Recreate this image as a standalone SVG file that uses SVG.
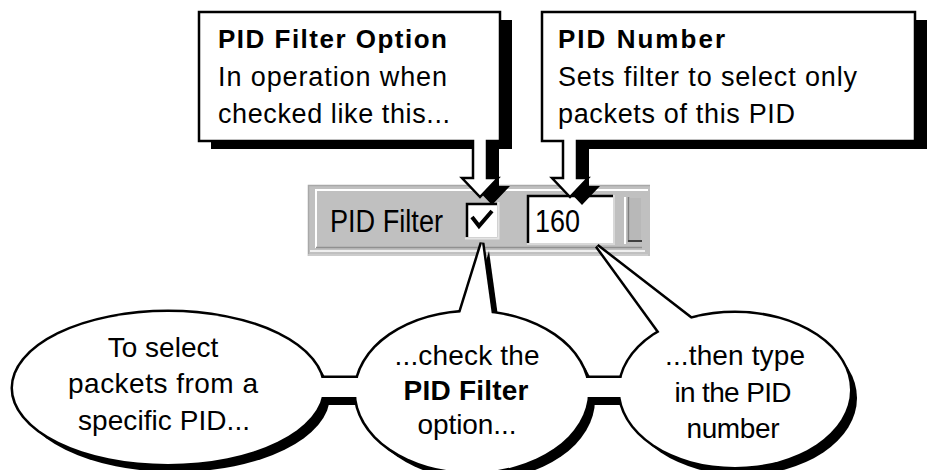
<svg xmlns="http://www.w3.org/2000/svg" width="927" height="470" viewBox="0 0 927 470">
<style>
text{font-family:"Liberation Sans",Arial,sans-serif;fill:#000}
.t{font-size:27px}
.tb{font-size:26px;font-weight:bold}
.e{font-size:28px;text-anchor:middle}
.eb{font-size:28px;font-weight:bold;text-anchor:middle}
.shadow{fill:#000}
.card{fill:#fff;stroke:#000;stroke-width:2.5;stroke-linejoin:miter}
.ol{fill:#fff;stroke:#000;stroke-width:5}
.wf{fill:#fff}
.tbt{font-size:31px}
</style>
<defs>
<ellipse id="e1" cx="168" cy="388" rx="155" ry="76"/>
<ellipse id="e2" cx="472" cy="392" rx="116" ry="80"/>
<ellipse id="e3" cx="735" cy="390" rx="115" ry="77"/>
<rect id="b1" x="310" y="378" width="60" height="19"/>
<rect id="b2" x="578" y="378" width="52" height="19"/>
<polygon id="t2" points="455,330 482,243 494,330"/>
<polygon id="t3" points="666,341 597,246 703,328"/>
</defs>

<g id="toolbar">
<rect x="308" y="185" width="342" height="71" fill="#c0c0c0"/>
<path d="M308.5,256 V185.5 H650" fill="none" stroke="#a8a8a8" stroke-width="1.5"/>
<path d="M316,248 V190 H648" fill="none" stroke="#fff" stroke-width="2"/>
<path d="M316,247.5 H642" fill="none" stroke="#909090" stroke-width="1.5"/>
<path d="M310,251 H645" fill="none" stroke="#fff" stroke-width="1.5"/>
<path d="M308,255 H648" fill="none" stroke="#d0d0d0" stroke-width="1.5"/>
<text class="tbt" x="330" y="232" textLength="113" lengthAdjust="spacingAndGlyphs">PID Filter</text>
<g id="checkbox">
<rect x="466" y="203" width="31" height="34" fill="#fff"/>
<path d="M465,238.5 H498.5 V202" stroke="#e4e4e4" stroke-width="2" fill="none"/>
<path d="M467,237 V204 H497" stroke="#000" stroke-width="2.5" fill="none"/>
<polyline points="472,217 479,226 492,211" fill="none" stroke="#000" stroke-width="4"/>
</g>
<g id="pid-input">
<rect x="527" y="195" width="86" height="48" fill="#fff"/>
<path d="M527,244 H614 V195" stroke="#d8d8d8" stroke-width="2" fill="none"/>
<path d="M528,243 V196 H613" stroke="#000" stroke-width="2.5" fill="none"/>
<text class="tbt" x="535" y="232" textLength="45" lengthAdjust="spacingAndGlyphs">160</text>
</g>
<path d="M625,197 V244" stroke="#fff" stroke-width="2" fill="none"/>
<rect x="630" y="198" width="11" height="42" fill="#b8b8b8"/>
<path d="M628.5,197 V242" stroke="#808080" stroke-width="1.5" fill="none"/>
<path d="M628,241 H642" stroke="#404040" stroke-width="2" fill="none"/>
</g>

<g id="balloon-shadow" class="shadow" transform="translate(7,8)">
<use href="#e1"/><use href="#e2"/><use href="#e3"/><use href="#b1"/><use href="#b2"/><use href="#t2"/>
</g>
<g id="balloon-outline" class="ol">
<use href="#e1"/><use href="#e2"/><use href="#e3"/><use href="#b1"/><use href="#b2"/><use href="#t2"/><use href="#t3"/>
</g>
<g id="connectors" class="wf">
<use href="#b1"/><use href="#b2"/><use href="#t2"/><use href="#t3"/>
</g>

<g id="balloon-select">
<use href="#e1" class="wf"/>
<text class="e" x="163" y="357">To select</text>
<text class="e" x="163" y="393" textLength="190">packets from a</text>
<text class="e" x="164" y="430" textLength="172">specific PID...</text>
</g>
<g id="balloon-check">
<use href="#e2" class="wf"/>
<text class="e" x="467" y="365" textLength="145">...check the</text>
<text class="eb" x="466" y="400" textLength="125">PID Filter</text>
<text class="e" x="467" y="434" textLength="99">option...</text>
</g>
<g id="balloon-type">
<use href="#e3" class="wf"/>
<text class="e" x="735" y="365" textLength="140">...then type</text>
<text class="e" x="733" y="402" textLength="117">in the PID</text>
<text class="e" x="733" y="438" textLength="93">number</text>
</g>

<g id="box-pid-filter-option">
<path class="shadow" d="M211,20 H512 V149 H499 V186 H510 L492,205 L474,186 H485 V149 H211 Z"/>
<path class="card" d="M199,12 H500 V141 H487 V178 H498 L480,197 L462,178 H473 V141 H199 Z"/>
<text class="tb" x="218" y="48" textLength="229">PID Filter Option</text>
<text class="t" x="218" y="86" textLength="229">In operation when</text>
<text class="t" x="218" y="123" textLength="232">checked like this...</text>
</g>
<g id="box-pid-number">
<path class="shadow" d="M563,20 H927 V149 H589 V186 H600 L582,205 L564,186 H575 V149 H563 Z"/>
<path class="card" d="M542,12 H915 V141 H577 V178 H588 L570,197 L552,178 H563 V141 H542 Z"/>
<text class="tb" x="558" y="48" textLength="167">PID Number</text>
<text class="t" x="558" y="86" textLength="299">Sets filter to select only</text>
<text class="t" x="558" y="123" textLength="237">packets of this PID</text>
</g>
</svg>
